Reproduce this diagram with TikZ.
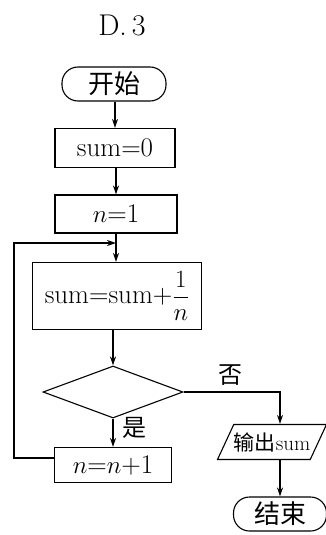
\documentclass[tikz,border=0pt]{standalone}
\usepackage{fontspec}
\usepackage{amsmath}
\newfontfamily\cjk{Noto Sans CJK SC}
\usetikzlibrary{shapes.geometric,arrows.meta,calc}
\tikzset{
  ln/.style={line width=1.1pt, draw=black},
  arr/.style={ln, -{Stealth[length=9pt,width=6pt]}},
  term/.style={ln, rectangle, rounded corners=16pt, inner sep=0pt, font=\fontsize{26}{30}\selectfont\cjk},
  proc/.style={ln, rectangle, inner sep=0pt, font=\fontsize{27}{31}\selectfont},
  lbl/.style={inner sep=0pt, font=\fontsize{24}{28}\selectfont\cjk},
}
\begin{document}
\begin{tikzpicture}[x=1pt,y=-1pt]
\useasboundingbox (0,0) rectangle (326,535);
\node[inner sep=0pt, font=\fontsize{30}{34}\selectfont] (title) at (122,25) {D.\,3};
\node[term, minimum width=104pt, minimum height=34pt] (start) at (114,84) {开始};
\node[proc, minimum width=120pt, minimum height=39pt] (s0) at (115,148) {sum=0};
\node[proc, minimum width=122pt, minimum height=38pt] (n1) at (116,214) {$n$=1};
\node[proc, minimum width=169pt, minimum height=67pt] (upd) at (117,296) {sum=sum+$\dfrac{1}{n}$};
\node[ln, diamond, minimum width=140pt, minimum height=52pt, inner sep=0pt] (dec) at (113,392) {};
\node[proc, minimum width=117pt, minimum height=35pt] (inc) at (113,465) {$n$=$n$+1};
\node[ln, trapezium, trapezium left angle=50, trapezium right angle=130, trapezium stretches=true,
      minimum width=106pt, minimum height=35pt, inner sep=0pt,
      font=\fontsize{21}{24}\selectfont] (out) at (272,442) {{\cjk 输出}sum};
\node[term, minimum width=93pt, minimum height=34pt] (end) at (280,514) {结束};
\node[lbl] (no) at (230,375) {否};
\node[lbl] (yes) at (134,428) {是};
\coordinate (c) at (280,0);
\coordinate (m) at (116,243);
\coordinate (lx) at (14,0);
\draw[arr] (start.south -| s0.north) -- (s0.north);
\draw[arr] (s0.south -| n1.north) -- (n1.north);
\draw[arr] (n1.south) -- (n1.south |- upd.north);
\draw[arr] (dec.north |- upd.south) -- (dec.north);
\draw[arr] (dec.south) -- (inc.north);
\draw[arr] (dec.east) -| (c |- out.north);
\draw[arr] (c |- out.south) -- (c |- end.north);
\draw[arr] ([yshift=7pt]inc.west) -| (lx |- m) -- (m);
\end{tikzpicture}
\end{document}
